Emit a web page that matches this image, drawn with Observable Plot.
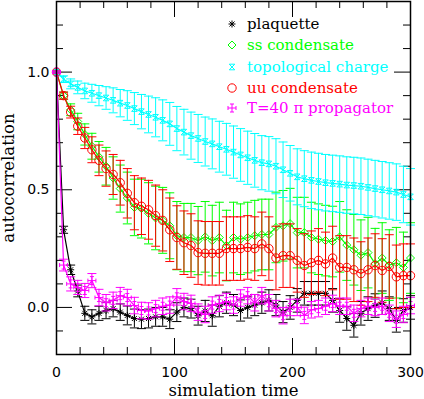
<!DOCTYPE html>
<html><head><meta charset="utf-8">
<script src="https://cdn.jsdelivr.net/npm/d3@7"></script>
<script src="https://cdn.jsdelivr.net/npm/@observablehq/plot@0.6"></script>
<style>
body{margin:0;background:#fff;}
#chart{position:relative;width:424px;height:399px;overflow:hidden;}
</style></head><body><div id="chart"></div>
<script>
// simulation time grid
const times = [0,6,12,18,24,30,36,42,48,54,60,66,72,78,84,90,96,102,108,114,120,126,132,138,144,150,156,162,168,174,180,186,192,198,204,210,216,222,228,234,240,246,252,258,264,270,276,282,288,294,300];

const plaquette = [1.0,0.33,0.16,0.07,-0.025,-0.04,-0.025,-0.013,-0.005,-0.02,-0.034,-0.047,-0.05,-0.047,-0.04,-0.04,-0.05,-0.02,0.0,-0.005,-0.035,-0.015,-0.035,0.005,0.02,0.01,-0.013,0.0,0.01,0.02,0.03,0.01,-0.02,0.0,0.03,0.06,0.06,0.06,0.06,0.03,-0.013,-0.047,-0.076,-0.025,-0.005,0.008,0.02,-0.005,-0.055,-0.013,0.0];
const plaquetteErr = [0.005,0.015,0.02,0.025,0.03,0.03,0.03,0.035,0.035,0.035,0.04,0.04,0.04,0.04,0.04,0.04,0.04,0.04,0.04,0.04,0.04,0.045,0.045,0.045,0.045,0.045,0.045,0.045,0.045,0.045,0.045,0.045,0.045,0.05,0.05,0.05,0.05,0.05,0.05,0.05,0.05,0.05,0.05,0.05,0.05,0.05,0.05,0.05,0.05,0.05,0.05];

const ssCond = [1.0,0.9,0.84,0.79,0.735,0.685,0.64,0.6,0.55,0.505,0.465,0.425,0.42,0.4,0.38,0.37,0.347,0.305,0.297,0.297,0.284,0.3,0.284,0.297,0.263,0.297,0.29,0.297,0.305,0.31,0.31,0.34,0.347,0.356,0.318,0.318,0.297,0.29,0.284,0.28,0.3,0.265,0.245,0.222,0.233,0.186,0.21,0.18,0.19,0.17,0.21];
const ssErr = [0.005,0.015,0.025,0.035,0.045,0.055,0.065,0.08,0.09,0.1,0.11,0.12,0.125,0.13,0.135,0.14,0.14,0.145,0.145,0.145,0.145,0.15,0.15,0.15,0.15,0.15,0.15,0.15,0.15,0.15,0.15,0.15,0.15,0.15,0.15,0.15,0.15,0.15,0.15,0.15,0.15,0.15,0.15,0.15,0.15,0.15,0.15,0.15,0.15,0.15,0.15];

const topoCharge = [1.0,0.97,0.95,0.935,0.92,0.91,0.9,0.89,0.88,0.868,0.858,0.845,0.832,0.82,0.808,0.795,0.78,0.76,0.745,0.73,0.718,0.705,0.695,0.683,0.672,0.66,0.648,0.636,0.625,0.615,0.61,0.6,0.585,0.57,0.555,0.547,0.54,0.535,0.53,0.527,0.524,0.52,0.518,0.515,0.51,0.505,0.5,0.495,0.49,0.48,0.47];
const topoErr = [0.005,0.014,0.021,0.027,0.033,0.038,0.043,0.048,0.053,0.058,0.063,0.068,0.073,0.078,0.083,0.087,0.091,0.094,0.097,0.1,0.102,0.104,0.106,0.108,0.11,0.111,0.112,0.113,0.114,0.115,0.116,0.117,0.118,0.118,0.119,0.119,0.12,0.12,0.12,0.12,0.12,0.12,0.12,0.12,0.12,0.12,0.12,0.12,0.12,0.12,0.12];

const uuCond = [1.0,0.9,0.83,0.77,0.72,0.67,0.625,0.59,0.565,0.53,0.485,0.445,0.43,0.415,0.39,0.37,0.33,0.297,0.275,0.263,0.233,0.23,0.23,0.23,0.25,0.25,0.25,0.255,0.25,0.27,0.25,0.21,0.22,0.22,0.2,0.178,0.19,0.2,0.185,0.21,0.17,0.17,0.16,0.144,0.16,0.178,0.157,0.174,0.13,0.135,0.135];
const uuErr = [0.005,0.015,0.025,0.035,0.045,0.055,0.065,0.075,0.085,0.095,0.105,0.115,0.12,0.125,0.13,0.13,0.135,0.135,0.135,0.135,0.135,0.135,0.135,0.135,0.135,0.135,0.135,0.135,0.135,0.135,0.135,0.135,0.135,0.135,0.135,0.135,0.135,0.135,0.135,0.135,0.135,0.135,0.135,0.135,0.135,0.135,0.135,0.135,0.135,0.135,0.135];

const propT40 = [1.0,0.18,0.1,0.085,0.072,0.114,0.042,0.02,0.03,0.05,0.042,0.008,-0.013,-0.015,-0.005,0.005,0.01,0.045,0.025,0.017,-0.02,-0.03,0.01,0.017,0.025,0.01,0.04,0.05,0.02,0.05,0.02,-0.005,-0.035,0.0,0.0,-0.034,-0.01,-0.005,0.005,0.017,0.005,0.005,-0.025,-0.005,0.005,0.0,0.005,-0.025,-0.05,-0.03,0.008];
const propErr = [0.005,0.025,0.03,0.03,0.03,0.03,0.035,0.035,0.035,0.035,0.035,0.035,0.035,0.035,0.035,0.035,0.035,0.035,0.035,0.035,0.035,0.035,0.035,0.035,0.035,0.035,0.035,0.035,0.035,0.035,0.035,0.035,0.035,0.035,0.035,0.035,0.035,0.035,0.035,0.035,0.035,0.035,0.035,0.035,0.035,0.035,0.035,0.035,0.035,0.035,0.035];

const seriesNames = ["plaquette","ss condensate","topological charge","uu condensate","T=40 \u03c0 propagator"];
const seriesColors = ["#000000","#00ff00","#00ffff","#ff0000","#ff00ff"];
const xMajor = [0,100,200,300];
const xMinor = [20,40,60,80,120,140,160,180,220,240,260,280];
const yMajor = [0,0.5,1.0];
const yMinor = [-0.1,0.1,0.2,0.3,0.4,0.6,0.7,0.8,0.9,1.1,1.2];

// symbols
const rad = s => Math.sqrt(s / Math.PI);
const symAsterisk = {draw(c, s){const r=rad(s), d=r*0.72; c.moveTo(-r,0);c.lineTo(r,0);c.moveTo(0,-r);c.lineTo(0,r);c.moveTo(-d,-d);c.lineTo(d,d);c.moveTo(-d,d);c.lineTo(d,-d);}};
const symDiamond = {draw(c, s){const r=rad(s); c.moveTo(0,-r);c.lineTo(r,0);c.lineTo(0,r);c.lineTo(-r,0);c.closePath();}};
const symHour = {draw(c, s){const r=rad(s)*0.8; c.moveTo(-r,-r);c.lineTo(r,-r);c.lineTo(-r,r);c.lineTo(r,r);c.closePath();}};
const symCircle = {draw(c, s){const r=rad(s); c.moveTo(r,0);c.arc(0,0,r,0,2*Math.PI);}};
const symPlusCap = {draw(c, s){const r=rad(s), h=r*0.5; c.moveTo(-r,0);c.lineTo(r,0);c.moveTo(0,-r);c.lineTo(0,r);c.moveTo(-h,-r);c.lineTo(h,-r);c.moveTo(-h,r);c.lineTo(h,r);c.moveTo(-r,-h);c.lineTo(-r,h);c.moveTo(r,-h);c.lineTo(r,h);}};
const symCap = {draw(c, s){const r=rad(s); c.moveTo(-r,0);c.lineTo(r,0);}};

const seriesVals = [plaquette, ssCond, topoCharge, uuCond, propT40];
const seriesErrs = [plaquetteErr, ssErr, topoErr, uuErr, propErr];
const seriesSyms = [symAsterisk, symDiamond, symHour, symCircle, symPlusCap];
const seriesR = [3.5, 4, 3.5, 4.2, 4];

const W = 424, H = 399, mL = 56, mR = 14, mT = 1, mB = 45;
const pw = W - mL - mR, ph = H - mT - mB;

const marks = [];
seriesNames.forEach((name, k) => {
  const rows = times.map((t, i) => ({t, v: seriesVals[k][i], e: seriesErrs[k][i]}));
  const col = seriesColors[k];
  marks.push(
    Plot.ruleX(rows, {x: "t", y1: d => d.v - d.e, y2: d => d.v + d.e, stroke: col, strokeWidth: 1}),
    Plot.dot(rows, {x: "t", y: d => d.v + d.e, symbol: symCap, r: 4.5, stroke: col, strokeWidth: 1, fill: "none"}),
    Plot.dot(rows, {x: "t", y: d => d.v - d.e, symbol: symCap, r: 4.5, stroke: col, strokeWidth: 1, fill: "none"}),
    Plot.line(rows, {x: "t", y: "v", stroke: col, strokeWidth: 1.2}),
    Plot.dot(rows, {x: "t", y: "v", symbol: seriesSyms[k], r: seriesR[k], stroke: col, strokeWidth: 1, fill: "none"})
  );
});

const chart = Plot.plot({
  width: W, height: H,
  marginLeft: mL, marginRight: mR, marginTop: mT, marginBottom: mB,
  x: {domain: [0, 300]},
  y: {domain: [-0.2, 1.3]},
  style: {fontFamily: "DejaVu Sans", fontSize: "14px", color: "black", background: "white", overflow: "visible"},
  marks: [
    // inward ticks on all four sides
    Plot.tickY(yMajor, {y: d => d, insetRight: pw - 16, stroke: "black"}),
    Plot.tickY(yMajor, {y: d => d, insetLeft: pw - 16, stroke: "black"}),
    Plot.tickY(yMinor, {y: d => d, insetRight: pw - 7, stroke: "black"}),
    Plot.tickY(yMinor, {y: d => d, insetLeft: pw - 7, stroke: "black"}),
    Plot.tickX(xMajor, {x: d => d, insetTop: ph - 16, stroke: "black"}),
    Plot.tickX(xMajor, {x: d => d, insetBottom: ph - 16, stroke: "black"}),
    Plot.tickX(xMinor, {x: d => d, insetTop: ph - 7, stroke: "black"}),
    Plot.tickX(xMinor, {x: d => d, insetBottom: ph - 7, stroke: "black"}),
    Plot.axisX({ticks: xMajor, tickSize: 0, tickPadding: 13, label: null, fontSize: 14}),
    Plot.axisY({ticks: yMajor, tickSize: 0, tickPadding: 7, tickFormat: d3.format(".1f"), label: null, fontSize: 14}),
    ...marks,
    Plot.frame({stroke: "black", strokeWidth: 1.5}),
    Plot.text(["autocorrelation"], {frameAnchor: "left", dx: -43, rotate: -90, lineAnchor: "bottom", textAnchor: "middle", fontFamily: "DejaVu Serif", fontSize: 16.5}),
    Plot.text(["simulation time"], {frameAnchor: "bottom", dy: 41, lineAnchor: "bottom", textAnchor: "middle", fontFamily: "DejaVu Serif", fontSize: 16.5})
  ]
});
const host = document.getElementById("chart");
host.appendChild(chart);

// legend inside the plot area (overlay svg)
const legendY = [24, 45, 67, 88, 108];
const lsvg = d3.select(host).append("svg")
  .attr("width", W).attr("height", 130)
  .style("position", "absolute").style("left", "0px").style("top", "0px")
  .style("overflow", "visible").style("pointer-events", "none");
seriesNames.forEach((name, k) => {
  lsvg.append("path")
    .attr("transform", `translate(232,${legendY[k]})`)
    .attr("d", d3.symbol(seriesSyms[k], Math.PI * seriesR[k] * seriesR[k])())
    .attr("fill", "none").attr("stroke", seriesColors[k]).attr("stroke-width", 1);
  lsvg.append("text")
    .attr("x", 247).attr("y", legendY[k] + 5)
    .attr("font-family", "DejaVu Serif")
    .attr("font-size", 15)
    .attr("fill", seriesColors[k])
    .text(name);
});
</script></body></html>
